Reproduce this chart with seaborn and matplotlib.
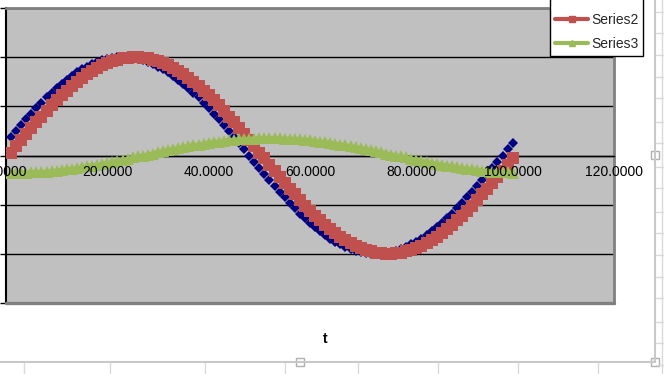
import matplotlib
matplotlib.use("Agg")
import matplotlib.pyplot as plt
import seaborn as sns
import pandas as pd
from matplotlib.lines import Line2D
from matplotlib.patches import Rectangle

# ---------------- data ----------------
t = list(range(1, 101))

series1 = [0.37, 0.50, 0.62, 0.74, 0.85, 0.96, 1.07, 1.18, 1.27, 1.37, 1.46, 1.54,
           1.62, 1.69, 1.75, 1.81, 1.86, 1.90, 1.94, 1.96, 1.98, 2.00, 2.00,
           2.00, 1.98, 1.96, 1.94, 1.90, 1.86, 1.81, 1.75, 1.69, 1.62, 1.54, 1.46,
           1.37, 1.27, 1.18, 1.07, 0.96, 0.85, 0.74, 0.62, 0.50, 0.37, 0.25, 0.13, 0.00,
           -0.13, -0.25, -0.37, -0.50, -0.62, -0.74, -0.85, -0.96, -1.07, -1.18, -1.27,
           -1.37, -1.46, -1.54, -1.62, -1.69, -1.75, -1.81, -1.86, -1.90, -1.94, -1.96,
           -1.98, -2.00, -2.00, -2.00, -1.98, -1.96, -1.94, -1.90, -1.86, -1.81, -1.75,
           -1.69, -1.62, -1.54, -1.46, -1.37, -1.27, -1.18, -1.07, -0.96, -0.85, -0.74,
           -0.62, -0.50, -0.37, -0.25, -0.13, 0.00, 0.13, 0.25]

series2 = [0.06, 0.19, 0.31, 0.44, 0.56, 0.68, 0.79, 0.91, 1.02, 1.12, 1.23, 1.32,
           1.41, 1.50, 1.58, 1.65, 1.72, 1.78, 1.84, 1.88, 1.92, 1.95, 1.98, 1.99, 2.00,
           2.00, 1.99, 1.98, 1.95, 1.92, 1.88, 1.84, 1.78, 1.72, 1.65, 1.58, 1.50,
           1.41, 1.32, 1.23, 1.12, 1.02, 0.91, 0.79, 0.68, 0.56, 0.44, 0.31, 0.19, 0.06,
           -0.06, -0.19, -0.31, -0.44, -0.56, -0.68, -0.79, -0.91, -1.02, -1.12, -1.23,
           -1.32, -1.41, -1.50, -1.58, -1.65, -1.72, -1.78, -1.84, -1.88, -1.92, -1.95,
           -1.98, -1.99, -2.00, -2.00, -1.99, -1.98, -1.95, -1.92, -1.88, -1.84, -1.78,
           -1.72, -1.65, -1.58, -1.50, -1.41, -1.32, -1.23, -1.12, -1.02, -0.91, -0.79,
           -0.68, -0.56, -0.44, -0.31, -0.19, -0.06]

series3 = [-0.35, -0.35,
           -0.35, -0.35, -0.34, -0.34, -0.33, -0.33, -0.32, -0.31, -0.30, -0.28, -0.27,
           -0.26, -0.24, -0.22, -0.21, -0.19, -0.17, -0.15, -0.13, -0.11, -0.09, -0.07,
           -0.04, -0.02, 0.00,
           0.02, 0.04, 0.07, 0.09, 0.11, 0.13, 0.15, 0.17, 0.19, 0.21, 0.22, 0.24, 0.26,
           0.27, 0.28, 0.30, 0.31, 0.32, 0.33, 0.33, 0.34, 0.34, 0.35, 0.35, 0.35,
           0.35, 0.35, 0.34, 0.34, 0.33, 0.33, 0.32, 0.31, 0.30, 0.28, 0.27, 0.26, 0.24,
           0.22, 0.21, 0.19, 0.17, 0.15, 0.13, 0.11, 0.09, 0.07, 0.04, 0.02, 0.00,
           -0.02, -0.04, -0.07, -0.09, -0.11, -0.13, -0.15, -0.17, -0.19, -0.21, -0.22,
           -0.24, -0.26, -0.27, -0.28, -0.30, -0.31, -0.32, -0.33, -0.33, -0.34, -0.34,
           -0.35]

series_names = ["Series1", "Series2", "Series3"]
x_ticks = [0, 20, 40, 60, 80, 100, 120]
x_tick_labels = ["0.0000", "20.0000", "40.0000", "60.0000", "80.0000", "100.0000", "120.0000"]
y_ticks = [-3, -2, -1, 0, 1, 2, 3]
x_title = "t"

# ---------------- style ----------------
sns.set_style("white")
plt.rcParams["font.family"] = ["Liberation Sans", "DejaVu Sans"]

W, H = 664, 374
fig = plt.figure(figsize=(W / 100, H / 100), dpi=100)
fig.patch.set_facecolor("white")


def fx(px):
    return px / W


def fy(py):
    return 1 - py / H


ax = fig.add_axes([fx(6), fy(303), fx(614) - fx(6), fy(8) - fy(303)])
ax.set_facecolor("#C0C0C0")

df = pd.DataFrame({"t": t, "Series1": series1, "Series2": series2, "Series3": series3})

blue, red, green = "#000080", "#C0504D", "#9BBB59"

sns.lineplot(data=df, x="t", y="Series1", ax=ax, color=blue, marker="D",
             markersize=5.2, markeredgewidth=0, linewidth=0, zorder=3, legend=False)
sns.lineplot(data=df, x="t", y="Series2", ax=ax, color=red, marker="s",
             markersize=8.6, markeredgewidth=0, linewidth=3.0, zorder=4, legend=False)
sns.lineplot(data=df, x="t", y="Series3", ax=ax, color=green, marker="^",
             markersize=8.0, markeredgewidth=0, linewidth=3.0, zorder=5, legend=False)

ax.set_xlim(0, 120)
ax.set_ylim(-3, 3)
ax.set_xticks(x_ticks)
ax.set_xticklabels(x_tick_labels)
ax.set_yticks(y_ticks)
ax.set_yticklabels([])
ax.set_xlabel("")
ax.set_ylabel("")

ax.yaxis.grid(True, color="black", linewidth=1.0)
ax.xaxis.grid(False)
ax.set_axisbelow(True)
ax.xaxis.set_zorder(10)  # tick labels drawn over the series, as in the reference

for s in ["top", "right"]:
    ax.spines[s].set_color("#808080")
    ax.spines[s].set_linewidth(2.0)
ax.spines["left"].set_color("black")
ax.spines["left"].set_linewidth(1.5)
ax.spines["bottom"].set_position(("data", 0))
ax.spines["bottom"].set_color("black")
ax.spines["bottom"].set_linewidth(1.0)
ax.axhline(-3, color="#808080", linewidth=2.4, clip_on=False, zorder=6)

ax.tick_params(axis="x", direction="out", length=4, width=1, color="black",
               pad=3, labelsize=10, labelcolor="black")
ax.tick_params(axis="y", direction="out", length=4, width=1, color="black", left=True)

fig.text(fx(325), fy(339), x_title, ha="center", va="center",
         fontsize=10, fontweight="bold", color="black")

# legend (top part cut off as in the reference)
handles = [
    Line2D([], [], color=blue, marker="D", markersize=4, linewidth=3.0),
    Line2D([], [], color=red, marker="s", markersize=5, linewidth=3.0),
    Line2D([], [], color=green, marker="^", markersize=5, linewidth=3.0),
]
leg = fig.legend(handles, series_names, loc="upper left",
                 bbox_to_anchor=(fx(550), fy(-16)), bbox_transform=fig.transFigure,
                 frameon=True, fancybox=False, framealpha=1, edgecolor="black",
                 fontsize=10, handlelength=2.4, handletextpad=0.2,
                 labelspacing=0.72, borderpad=0.35, borderaxespad=0)
leg.get_frame().set_linewidth(1.0)

# chart-area border and worksheet cell lines around it
def fline(x0, y0, x1, y1, color, lw=1.0):
    fig.add_artist(Line2D([fx(x0), fx(x1)], [fy(y0), fy(y1)],
                          transform=fig.transFigure, color=color, linewidth=lw))

fline(0, 362, 655, 362, "#C8C8C8", 1.5)
fline(655, 0, 655, 362, "#C8C8C8", 1.5)
fline(662, 0, 662, 374, "#DADADA", 1.0)
for xv in [24, 110, 205, 285, 358, 438, 518, 598]:
    fline(xv, 363, xv, 374, "#DADADA", 1.0)
for yv in [12, 33, 55, 77, 98, 122, 143, 167, 188, 212, 233, 255, 277, 298, 322, 343, 365]:
    fline(656, yv, 664, yv, "#DADADA", 1.0)
for (hx, hy) in [(300, 362), (655, 155), (655, 362)]:
    fig.add_artist(Rectangle((fx(hx - 4), fy(hy + 4)), 8 / W, 8 / H,
                             transform=fig.transFigure, facecolor="white",
                             edgecolor="#B0B0B0", linewidth=1.0))

fig.savefig("out.png", dpi=100)
